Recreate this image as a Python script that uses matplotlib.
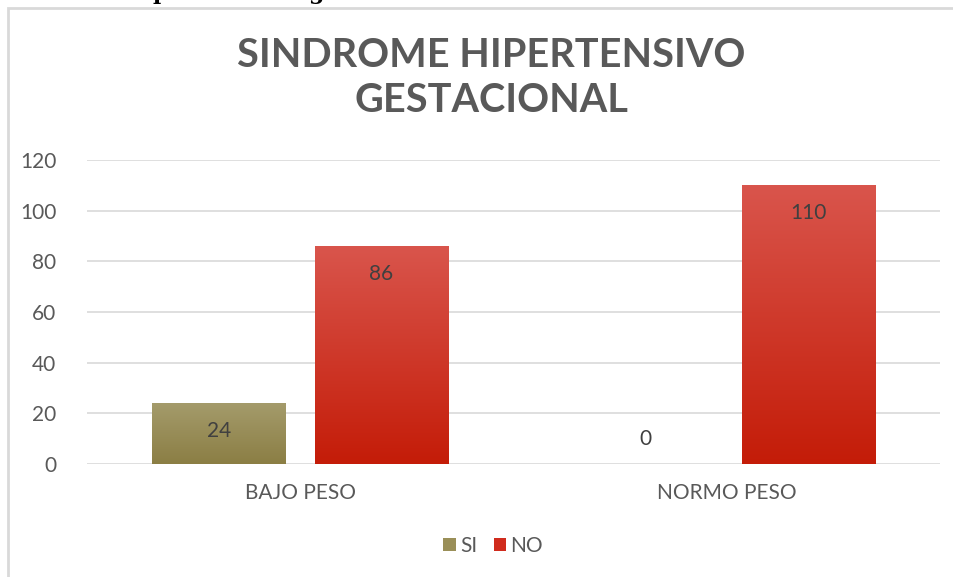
import matplotlib
matplotlib.use("Agg")
import matplotlib.pyplot as plt
import numpy as np
from matplotlib.patches import Rectangle
from matplotlib.colors import LinearSegmentedColormap

categories = ["BAJO PESO", "NORMO PESO"]
series_names = ["SI", "NO"]
si_values = [24, 0]
no_values = [86, 110]
yticks = [0, 20, 40, 60, 80, 100, 120]
title = "SINDROME HIPERTENSIVO\nGESTACIONAL"

plt.rcParams['font.family'] = ['Lato', 'DejaVu Sans']
W, H = 954, 577
fig = plt.figure(figsize=(W/100, H/100), dpi=100)

# outer chart frame (partially cut off)
fig.patches.append(Rectangle((8/W, -0.05), 1.2, 1 - 8/H + 0.05, transform=fig.transFigure,
                             fill=False, edgecolor='#d9d9d9', linewidth=2))
# cut-off document text above the frame
fig.text(160/W, 1 + 7/H, "p", fontsize=16, fontweight='bold', family='DejaVu Serif',
         ha='center', va='center')
fig.text(316/W, 1 + 7/H, "g", fontsize=16, fontweight='bold', family='DejaVu Serif',
         ha='center', va='center')

ax = fig.add_axes([87/W, 1 - 464/H, (940-87)/W, (464-160)/H])
x = np.arange(len(categories))
bw = 0.312
off = 0.1906

grad_si = LinearSegmentedColormap.from_list('si', ['#8b7e44', '#a49b6b'])
grad_no = LinearSegmentedColormap.from_list('no', ['#c41c08', '#d9554c'])

def grad_bars(xs, vals, cmap, label, color):
    bars = ax.bar(xs, vals, bw, color=color, label=label, zorder=3)
    grad = np.linspace(0, 1, 256).reshape(-1, 1)
    for b in bars:
        h = b.get_height()
        if h <= 0:
            continue
        im = ax.imshow(grad, cmap=cmap, origin='lower', aspect='auto',
                       extent=[b.get_x(), b.get_x() + b.get_width(), 0, h], zorder=3.5)
        im.set_clip_path(b)
    return bars

b1 = grad_bars(x - off, si_values, grad_si, series_names[0], '#9a8f58')
b2 = grad_bars(x + off, no_values, grad_no, series_names[1], '#d02b1d')

for bars in (b1, b2):
    for b in bars:
        h = b.get_height()
        cx = b.get_x() + b.get_width()/2
        if h > 0:
            ax.annotate(f"{int(h)}", (cx, h), xytext=(0, -20), textcoords='offset points',
                        ha='center', va='center', fontsize=15, color='#404040', zorder=5)
        else:
            ax.annotate(f"{int(h)}", (cx, h), xytext=(0, 18), textcoords='offset points',
                        ha='center', va='center', fontsize=15, color='#404040', zorder=5)

ax.set_xlim(-0.5, 1.5)
ax.set_ylim(0, 120)
ax.set_yticks(yticks)
ax.set_xticks(x)
ax.set_xticklabels(categories)
ax.grid(axis='y', color='#d9d9d9', linewidth=1.2, zorder=0)
ax.set_axisbelow(True)
for s in ax.spines.values():
    s.set_visible(False)
ax.tick_params(axis='both', length=0, labelsize=15, colors='#595959')
ax.tick_params(axis='y', pad=22)
ax.tick_params(axis='x', pad=14)

fig.text(491/W, 1 - 78/H, title, ha='center', va='center', fontsize=28.5,
         fontweight='bold', color='#595959', linespacing=1.25)

leg = fig.legend(handles=[b1, b2], labels=series_names, loc='center',
                 bbox_to_anchor=(493/W, 1 - 546/H), ncol=2, frameon=False,
                 fontsize=15, handlelength=0.6, handleheight=0.6, handletextpad=0.2,
                 columnspacing=0.8)
for t in leg.get_texts():
    t.set_color('#595959')

fig.savefig('out.png', dpi=100)
